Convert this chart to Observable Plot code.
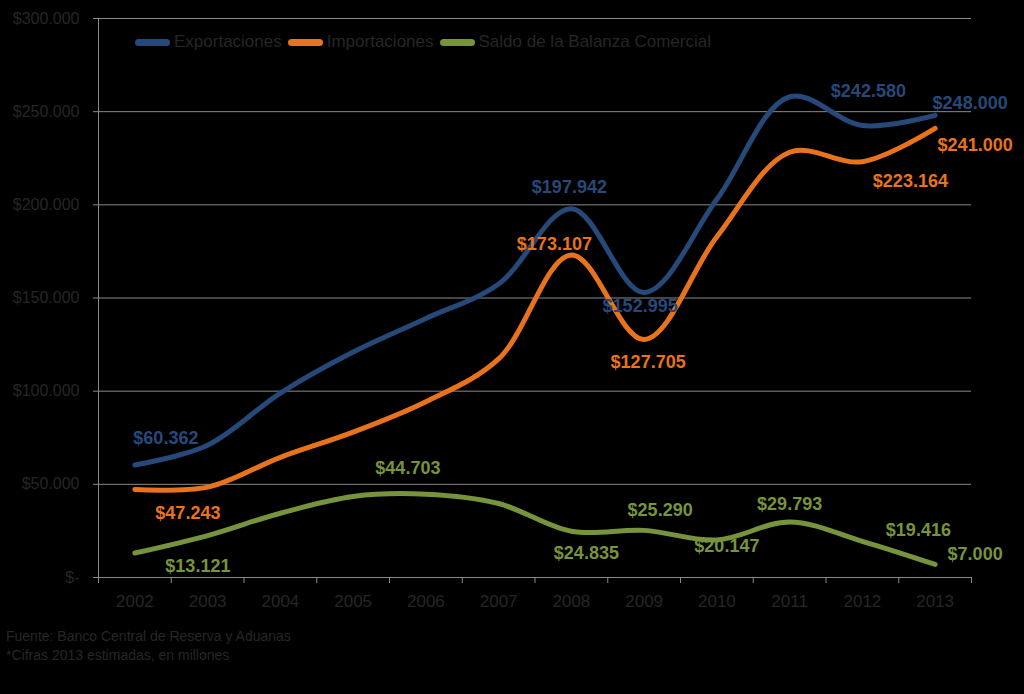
<!DOCTYPE html>
<html>
<head>
<meta charset="utf-8">
<script src="https://cdn.jsdelivr.net/npm/d3@7"></script>
<script src="https://cdn.jsdelivr.net/npm/@observablehq/plot@0.6"></script>
<style>
  html, body { margin: 0; padding: 0; background: #000; }
  #wrap { position: relative; width: 1024px; height: 694px; background: #000; font-family: "Liberation Sans", Arial, sans-serif; }
  #legend { position: absolute; left: 135px; top: 32px; display: flex; align-items: center; font-size: 17px; color: #262626; }
  .item { display: flex; align-items: center; margin-right: 6px; }
  .sw { width: 35px; height: 7px; border-radius: 4px; margin-right: 4px; }
  #note { position: absolute; left: 6px; top: 627px; font-size: 14px; line-height: 19px; color: #262626; }
</style>
</head>
<body>
<div id="wrap">
  <div id="chart"></div>
  <div id="legend"></div>
  <div id="note">Fuente: Banco Central de Reserva y Aduanas<br>*Cifras 2013 estimadas, en millones</div>
</div>
<script>
const years = [2002, 2003, 2004, 2005, 2006, 2007, 2008, 2009, 2010, 2011, 2012, 2013];
const exportaciones = [60362, 71000, 99000, 121000, 139000, 157500, 197942, 152995, 203000, 258000, 242580, 248000];
const importaciones = [47243, 48500, 64500, 78000, 94300, 117300, 173107, 127705, 182853, 228207, 223164, 241000];
const saldo = [13121, 22500, 34500, 43500, 44703, 39700, 24835, 25290, 20147, 29793, 19416, 7000];
const seriesNames = ["Exportaciones", "Importaciones", "Saldo de la Balanza Comercial"];
const yTicks = [0, 50000, 100000, 150000, 200000, 250000, 300000];

const colors = {"Exportaciones": "#27497a", "Importaciones": "#e8731c", "Saldo de la Balanza Comercial": "#77933c"};

// label placement (offsets in px from the data point)
const labelOffsets = [
  ["Exportaciones", 2002, 31, -27], ["Exportaciones", 2008, -2, -21], ["Exportaciones", 2009, -4, 14],
  ["Exportaciones", 2012, 6, -34], ["Exportaciones", 2013, 35, -12],
  ["Importaciones", 2002, 53, 24], ["Importaciones", 2008, -17, -11], ["Importaciones", 2009, 4, 23],
  ["Importaciones", 2012, 48, 20], ["Importaciones", 2013, 40, 17],
  ["Saldo de la Balanza Comercial", 2002, 63, 13], ["Saldo de la Balanza Comercial", 2006, -18, -26],
  ["Saldo de la Balanza Comercial", 2008, 15, 22], ["Saldo de la Balanza Comercial", 2009, 16, -20],
  ["Saldo de la Balanza Comercial", 2010, 10, 6], ["Saldo de la Balanza Comercial", 2011, 0, -18],
  ["Saldo de la Balanza Comercial", 2012, 56, -11], ["Saldo de la Balanza Comercial", 2013, 40, -10]
];

const seriesValues = [exportaciones, importaciones, saldo];
const rows = [];
seriesNames.forEach((s, i) => years.forEach((yr, j) => rows.push({serie: s, year: yr, value: seriesValues[i][j]})));

const money = v => v === 0 ? "$-" : "$" + d3.format(",")(v).replace(/,/g, ".");
const bounds = years.map(y => y - 0.5).concat([years[years.length - 1] + 0.5]);
const axisColor = "#8a8a8a";
const textColor = "#262626";

const labelMarks = labelOffsets.map(([s, yr, dx, dy]) =>
  Plot.text(rows.filter(r => r.serie === s && r.year === yr), {
    x: "year", y: "value", text: d => money(d.value), dx, dy,
    fill: colors[s], fontSize: 18, fontWeight: "bold", fontFamily: "Liberation Sans, Arial, sans-serif"
  })
);

const chart = Plot.plot({
  width: 1024,
  height: 618,
  marginLeft: 98,
  marginRight: 53,
  marginTop: 18,
  marginBottom: 41,
  style: {background: "#000", fontFamily: "Liberation Sans, Arial, sans-serif", fontSize: "15px"},
  x: {type: "linear", domain: [2001.5, 2013.5]},
  y: {domain: [0, 300000]},
  marks: [
    Plot.gridY(yTicks, {stroke: axisColor, strokeOpacity: 1, strokeWidth: 1}),
    Plot.axisY({ticks: yTicks, tickFormat: money, tickSize: 5, stroke: axisColor, fill: textColor, fontSize: 16, tickPadding: 14, label: null}),
    Plot.axisX({ticks: bounds, tickFormat: () => "", tickSize: 6, stroke: axisColor, label: null}),
    Plot.axisX({ticks: years, tickFormat: d => String(d), tickSize: 0, tickPadding: 17, fill: textColor, fontSize: 17, label: null}),
    Plot.ruleX([2001.5], {stroke: axisColor}),
    Plot.ruleY([0], {stroke: axisColor}),
    Plot.line(rows, {x: "year", y: "value", z: "serie", stroke: d => colors[d.serie], strokeWidth: 5, curve: "catmull-rom", strokeLinecap: "round"}),
    ...labelMarks
  ]
});
document.getElementById("chart").appendChild(chart);

const legend = document.getElementById("legend");
seriesNames.forEach(s => {
  const it = document.createElement("div");
  it.className = "item";
  const sw = document.createElement("div");
  sw.className = "sw";
  sw.style.background = colors[s];
  const tx = document.createElement("span");
  tx.textContent = s;
  it.appendChild(sw); it.appendChild(tx);
  legend.appendChild(it);
});
</script>
</body>
</html>
